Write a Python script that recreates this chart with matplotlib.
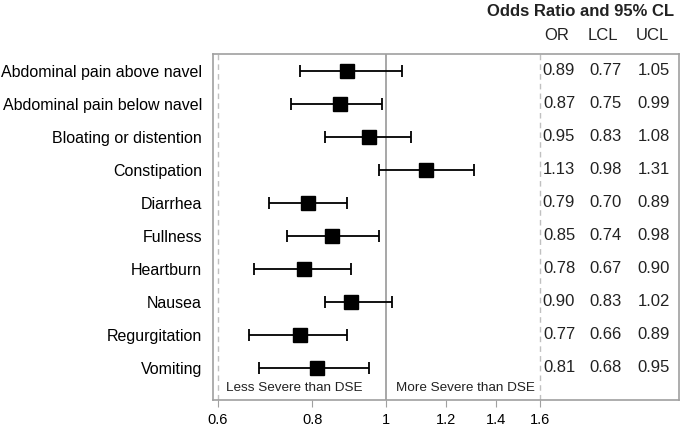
import matplotlib
matplotlib.use("Agg")
import matplotlib.pyplot as plt
from matplotlib.ticker import FixedLocator, NullLocator, FixedFormatter

plt.rcParams['font.family'] = ['Liberation Sans', 'DejaVu Sans']

symptoms = ["Abdominal pain above navel", "Abdominal pain below navel",
            "Bloating or distention", "Constipation", "Diarrhea", "Fullness",
            "Heartburn", "Nausea", "Regurgitation", "Vomiting"]
odds = [0.89, 0.87, 0.95, 1.13, 0.79, 0.85, 0.78, 0.90, 0.77, 0.81]
lcl = [0.77, 0.75, 0.83, 0.98, 0.70, 0.74, 0.67, 0.83, 0.66, 0.68]
ucl = [1.05, 0.99, 1.08, 1.31, 0.89, 0.98, 0.90, 1.02, 0.89, 0.95]
xticks = [0.6, 0.8, 1, 1.2, 1.4, 1.6]
xtick_labels = ["0.6", "0.8", "1", "1.2", "1.4", "1.6"]

W, H = 682, 425
fig = plt.figure(figsize=(W / 100, H / 100), dpi=100)
ax = fig.add_axes([213 / W, 1 - 400 / H, (679 - 213) / W, (400 - 54) / H])

ypos = list(range(len(symptoms)))
err_lo = [o - l for o, l in zip(odds, lcl)]
err_hi = [u - o for o, u in zip(odds, ucl)]

ax.axvline(1, color='#a0a0a0', lw=1.3, zorder=1)
for v in (0.6, 1.6):
    ax.axvline(v, color='#c0c0c0', lw=1, ls=(0, (4, 3)), zorder=1)

ax.errorbar(odds, ypos, xerr=[err_lo, err_hi], fmt='s', color='black',
            ms=10, ecolor='black', elinewidth=1.3, capsize=4, capthick=1.3,
            zorder=3)

ax.set_xscale('log')
# 0.6 sits 5 px inside the left frame, 1.6 sits 139 px from the right frame
ax.set_xlim(0.5909, 2.4435)
ax.set_ylim(9.97, -0.515)
ax.xaxis.set_major_locator(FixedLocator(xticks))
ax.xaxis.set_major_formatter(FixedFormatter(xtick_labels))
ax.xaxis.set_minor_locator(NullLocator())
ax.tick_params(axis='x', length=5, color='#a0a0a0', labelsize=10.5, pad=4)
ax.set_yticks(ypos)
ax.set_yticklabels(symptoms)
ax.tick_params(axis='y', length=0, labelsize=11.5, pad=8)
for s in ax.spines.values():
    s.set_color('#a0a0a0')
    s.set_linewidth(1.2)

# table columns (pixel centres converted to figure fractions)
col_px = [559, 606, 654]
head_px = [557, 603, 652]
for i in ypos:
    for cx, vals in zip(col_px, (odds, lcl, ucl)):
        ax.text((cx - 213) / 466, i, f"{vals[i]:.2f}",
                transform=ax.get_yaxis_transform(),
                ha='center', va='center', fontsize=12, color='#222222')

for cx, h in zip(head_px, ["OR", "LCL", "UCL"]):
    fig.text(cx / W, 1 - 35 / H, h, ha='center', va='center',
             fontsize=12, color='#222222')
fig.text(674 / W, 1 - 11 / H, "Odds Ratio and 95% CL", ha='right', va='center',
         fontsize=12, fontweight='bold', color='#222222')

ax.text(0.028, 9.6, "Less Severe than DSE", transform=ax.get_yaxis_transform(),
        ha='left', va='center', fontsize=9.7, color='#222222')
ax.text(0.392, 9.6, "More Severe than DSE", transform=ax.get_yaxis_transform(),
        ha='left', va='center', fontsize=9.7, color='#222222')

fig.savefig("out.png", dpi=100)
